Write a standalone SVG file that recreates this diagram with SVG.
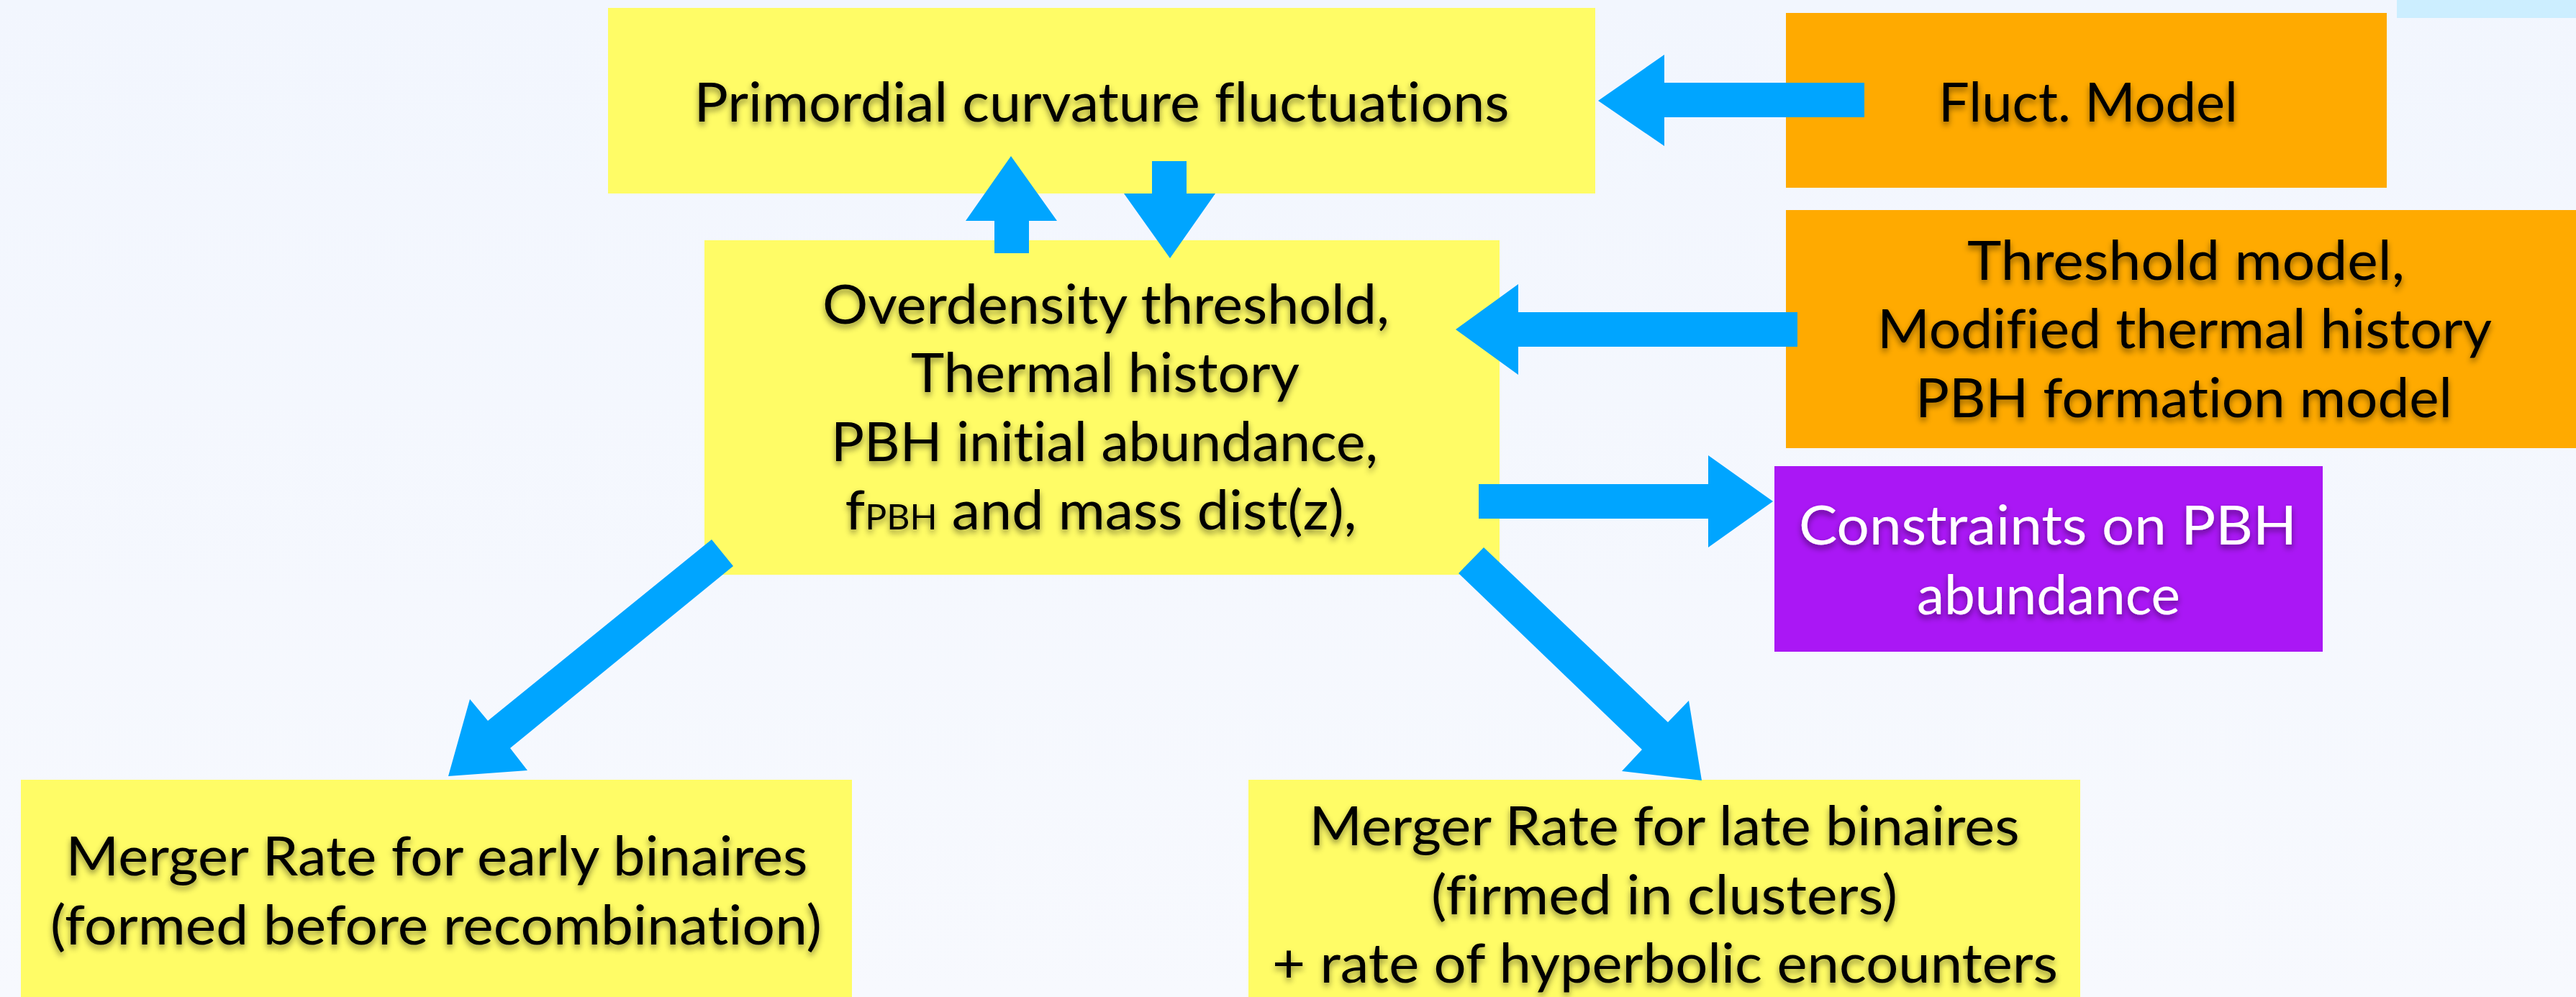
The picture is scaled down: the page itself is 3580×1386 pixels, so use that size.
<svg xmlns="http://www.w3.org/2000/svg" width="3580" height="1386" viewBox="0 0 3580 1386">
<defs>
<linearGradient id="bg" x1="0" y1="0" x2="0" y2="1">
<stop offset="0" stop-color="#F2F6FE"/>
<stop offset="1" stop-color="#F7F9FE"/>
</linearGradient>
<filter id="sh" x="-5%" y="-30%" width="110%" height="170%">
<feDropShadow dx="0" dy="5" stdDeviation="4" flood-color="#000" flood-opacity="0.45"/>
</filter>
</defs>
<style>
.y{fill:#FFFC66}
.o{fill:#FFAA00}
.p{fill:#AA17F5}
.t{font-family:Lato,"Open Sans","Liberation Sans",sans-serif;font-size:76px;fill:#000;text-anchor:middle;filter:url(#sh);font-variant-ligatures:none;font-feature-settings:"liga" 0,"dlig" 0}
.w{fill:#fff}
.sm{font-size:48px}
.a{fill:#00A5FF}
</style>
<rect width="3580" height="1386" fill="url(#bg)"/>
<rect x="3331" y="0" width="249" height="25" fill="#CCEEFF"/>

<g id="primordial">
<rect class="y" x="845" y="11" width="1372" height="258"/>
<text class="t" x="1531" y="169" textLength="1133" lengthAdjust="spacingAndGlyphs">Primordial curvature fluctuations</text>
</g>
<g id="fluct-model">
<rect class="o" x="2482" y="18" width="835" height="243"/>
<text class="t" x="2902" y="169" textLength="416" lengthAdjust="spacingAndGlyphs">Fluct. Model</text>
</g>
<g id="threshold">
<rect class="y" x="979" y="334" width="1105" height="465"/>
<text class="t" x="1537" y="450" textLength="788" lengthAdjust="spacingAndGlyphs">Overdensity threshold,</text>
<text class="t" x="1536" y="545" textLength="540" lengthAdjust="spacingAndGlyphs">Thermal history</text>
<text class="t" x="1535" y="641" textLength="760" lengthAdjust="spacingAndGlyphs">PBH initial abundance,</text>
<text class="t" x="1530" y="736" textLength="711" lengthAdjust="spacingAndGlyphs">f<tspan class="sm">PBH</tspan> and mass dist(z),</text>
</g>
<g id="threshold-model">
<rect class="o" x="2482" y="292" width="1098" height="331"/>
<text class="t" x="3038" y="389" textLength="608" lengthAdjust="spacingAndGlyphs">Threshold model,</text>
<text class="t" x="3036" y="484" textLength="854" lengthAdjust="spacingAndGlyphs">Modified thermal history</text>
<text class="t" x="3035" y="580" textLength="746" lengthAdjust="spacingAndGlyphs">PBH formation model</text>
</g>
<g id="constraints">
<rect class="p" x="2466" y="648" width="762" height="258"/>
<text class="t w" x="2846" y="757" textLength="692" lengthAdjust="spacingAndGlyphs">Constraints on PBH</text>
<text class="t w" x="2847" y="854" textLength="366" lengthAdjust="spacingAndGlyphs">abundance</text>
</g>
<g id="early-binaries">
<rect class="y" x="29" y="1084" width="1155" height="302"/>
<text class="t" x="607" y="1217" textLength="1031" lengthAdjust="spacingAndGlyphs">Merger Rate for early binaires</text>
<text class="t" x="606" y="1313" textLength="1072" lengthAdjust="spacingAndGlyphs">(formed before recombination)</text>
</g>
<g id="late-binaries">
<rect class="y" x="1735" y="1084" width="1156" height="302"/>
<text class="t" x="2313" y="1175" textLength="987" lengthAdjust="spacingAndGlyphs">Merger Rate for late binaires</text>
<text class="t" x="2313" y="1271" textLength="648" lengthAdjust="spacingAndGlyphs">(firmed in clusters)</text>
<text class="t" x="2314" y="1366" textLength="1092" lengthAdjust="spacingAndGlyphs">+ rate of hyperbolic encounters</text>
</g>

<g id="connectors">
<polygon class="a" points="2591,115 2313,115 2313,76 2221,140 2313,203 2313,163 2591,163"/>
<polygon class="a" points="1382,352 1382,307 1342,307 1405,217 1469,307 1430,307 1430,352"/>
<polygon class="a" points="1601,224 1649,224 1649,269 1689,269 1626,359 1562,269 1601,269"/>
<polygon class="a" points="2498,434 2110,434 2110,395 2023,458 2110,521 2110,482 2498,482"/>
<polygon class="a" points="2055,673 2374,673 2374,633 2464,697 2374,761 2374,721 2055,721"/>
<polygon class="a" points="989,750 678,1002 653,972 623,1079 733,1071 709,1040 1019,787"/>
<polygon class="a" points="2062,761 2318,1004 2347,974 2365,1085 2254,1072 2282,1042 2027,797"/>
</g>
</svg>
